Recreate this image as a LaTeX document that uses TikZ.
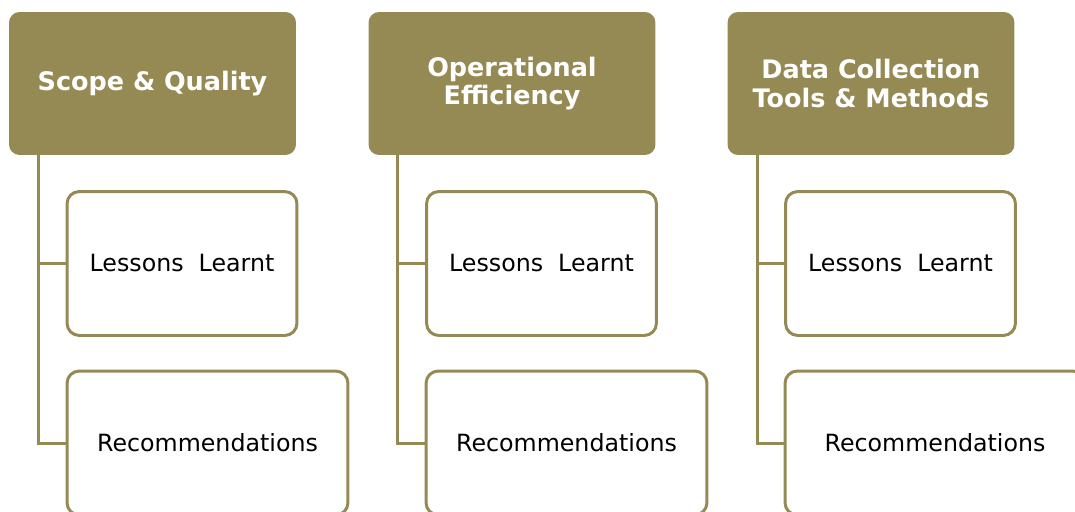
\documentclass[tikz,border=0pt]{standalone}
\usepackage{fontspec}
\setmainfont{DejaVu Sans}
\usepackage{tikz}
\usetikzlibrary{shapes,arrows,positioning,calc}
\definecolor{olive}{RGB}{150,138,84}
\tikzstyle{head} = [rectangle, rounded corners=6pt, fill=olive, draw=none, text=white, inner sep=0pt,
    minimum width=5.74cm, minimum height=2.86cm, align=center, font=\fontsize{14.5}{16}\selectfont\bfseries]
\tikzstyle{leaf} = [rectangle, rounded corners=7pt, draw=olive, line width=1.7pt, fill=white, inner sep=0pt,
    minimum height=2.88cm, align=center, font=\fontsize{13.5}{16}\selectfont]
\tikzstyle{conn} = [draw=olive, line width=1.7pt]

\begin{document}
\begin{tikzpicture}[x=0.02cm, y=-0.02cm]
\clip (0,0) rectangle (1075,511);
\useasboundingbox (0,0) rectangle (1075,511);
\node [head] (sq) at (152.5,83.5) {Scope \& Quality};
\node [head] (oe) at (512,83.5) {Operational\\Efficiency};
\node [head] (dc) at (871,83.5) {Data Collection\\Tools \& Methods};
\node [leaf, minimum width=4.6cm] (sqL) at (182,263.5) {Lessons~ Learnt};
\node [leaf, minimum width=5.62cm] (sqR) at (207.5,443) {Recommendations};
\node [leaf, minimum width=4.6cm] (oeL) at (541.5,263.5) {Lessons~ Learnt};
\node [leaf, minimum width=5.62cm] (oeR) at (566.5,443) {Recommendations};
\node [leaf, minimum width=4.6cm] (dcL) at (900.5,263.5) {Lessons~ Learnt};
\node [leaf, minimum width=6cm] (dcR) at (935,443) {Recommendations};
\coordinate (sqT) at ($(sq.south west)+(30,0)$);
\coordinate (oeT) at ($(oe.south west)+(29,0)$);
\coordinate (dcT) at ($(dc.south west)+(30,0)$);
\draw [conn] (sqT) |- (sqL.west); \draw [conn] (sqT) |- (sqR.west);
\draw [conn] (oeT) |- (oeL.west); \draw [conn] (oeT) |- (oeR.west);
\draw [conn] (dcT) |- (dcL.west); \draw [conn] (dcT) |- (dcR.west);
\end{tikzpicture}
\end{document}
